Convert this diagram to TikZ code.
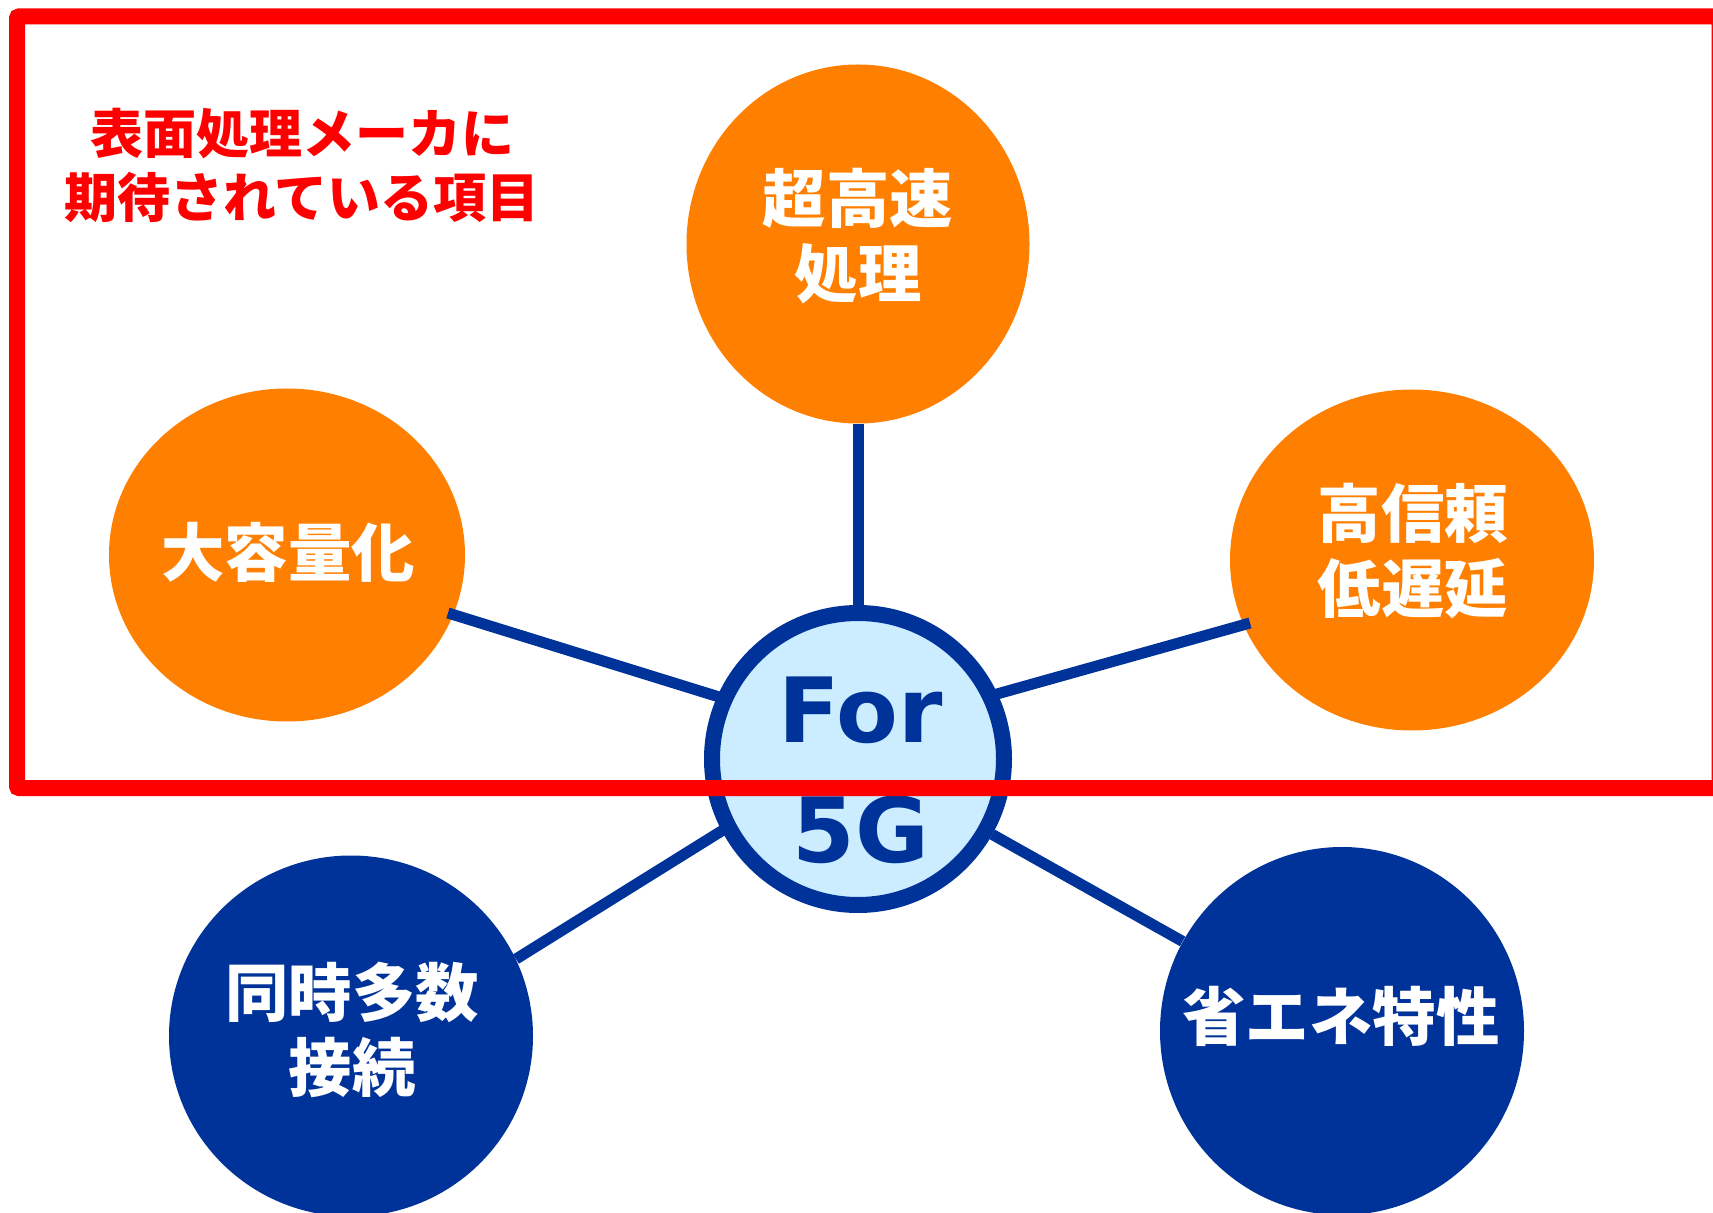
\documentclass[tikz,border=0pt]{standalone}
\usepackage{fontspec}
\usetikzlibrary{shapes.geometric}
\newfontfamily\jp{Noto Sans CJK JP}
\newfontfamily\vsans{DejaVu Sans}
\definecolor{orng}{HTML}{FF8000}
\definecolor{dblue}{HTML}{003399}
\definecolor{lblue}{HTML}{CCECFF}
\definecolor{rred}{HTML}{FF0000}
\pgfdeclarelayer{under}
\pgfdeclarelayer{links}
\pgfsetlayers{under,links,main}
\begin{document}
\begin{tikzpicture}[x=0.5pt,y=-0.5pt,
  orangebub/.style={ellipse,fill=orng,draw=none,inner sep=0pt},
  bluebub/.style={ellipse,fill=dblue,draw=none,inner sep=0pt},
  link/.style={draw=dblue,line width=5.5pt},
  wtext/.style={text=white,font=\jp\bfseries\fontsize{31.7}{37.5}\selectfont,align=center,inner sep=0pt},
  hubstyle/.style={circle,draw=dblue,fill=lblue,line width=8pt,minimum size=146pt,inner sep=0pt},
  redtitle/.style={text=rred,font=\jp\bfseries\fontsize{26.5}{32}\selectfont,align=center,inner sep=0pt},
  hubtext/.style={text=dblue,font=\vsans\bfseries\fontsize{45}{60}\selectfont,align=center,inner sep=0pt},
  framebox/.style={draw=rred,line width=8pt,rounded corners=1pt}
]
\useasboundingbox (0,0) rectangle (1713,1213);
\begin{pgfonlayer}{under}
\fill[white] (0,0) rectangle (1713,1213);
\node[orangebub,minimum width=171.5pt,minimum height=179.5pt] (speed) at (858,244) {};
\node[orangebub,minimum width=178pt,minimum height=166.5pt] (cap) at (287,555) {};
\node[orangebub,minimum width=182pt,minimum height=170.5pt] (rel) at (1412,560) {};
\node[bluebub,minimum width=182pt,minimum height=180.5pt] (conn) at (351,1036) {};
\node[bluebub,minimum width=182pt,minimum height=184pt] (eco) at (1342,1031) {};
\end{pgfonlayer}

\node[hubstyle] (hub) at (858,759) {};
% connector end points on the node borders
\coordinate (capE) at (448,613);
\coordinate (hubL) at (858,740);
\coordinate (relE) at (1250,623);
\coordinate (hubR) at (858,733);
\coordinate (connE) at (516,959);
\coordinate (hubLL) at (858,746);

\begin{pgfonlayer}{links}
\draw[link] (speed) -- (hub);
\draw[link] (capE) -- (hubL);
\draw[link] (relE) -- (hubR);
\draw[link] (connE) -- (hubLL);
\draw[link] (eco) -- (hub);
\end{pgfonlayer}

\node[wtext] (tspeed) at (858,236) {超高速\\処理};
\node[wtext] (tcap) at (288,552) {大容量化};
\node[wtext] (trel) at (1413,551) {高信頼\\低遅延};
\node[wtext] (tconn) at (352,1030) {同時多数\\接続};
\node[wtext] (teco) at (1341,1016) {省エネ特性};
\node[hubtext] (tfor) at (861,770) {For\\5G};

\draw[framebox] (17,16.5) rectangle (1719.5,788);
\node[redtitle] (title) at (302,165) {表面処理メーカに\\期待されている項目};
\end{tikzpicture}
\end{document}
